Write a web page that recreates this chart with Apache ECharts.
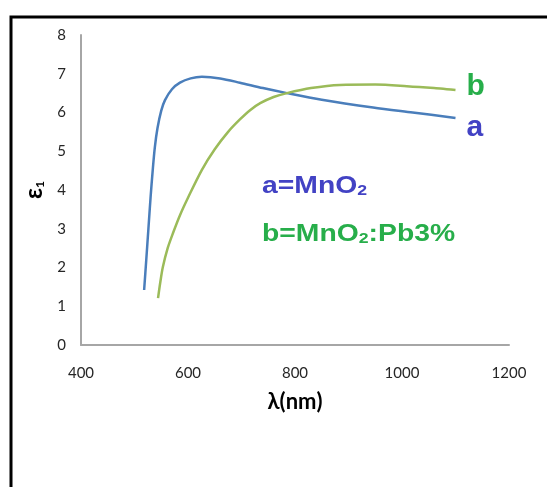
<!DOCTYPE html>
<html>
<head>
<meta charset="utf-8">
<script src="https://cdn.jsdelivr.net/npm/echarts@6/dist/echarts.min.js"></script>
<style>
  html, body { margin: 0; padding: 0; background: #fff; }
  #chart { width: 547px; height: 487px; }
</style>
</head>
<body>
<div id="chart"></div>
<script>
// 波长 (nm) 与 ε1 数据
const seriesNames = ['a', 'b']
const xTicks = [400, 600, 800, 1000, 1200]
const yTicks = [0, 1, 2, 3, 4, 5, 6, 7, 8]
// a = MnO2
const dataA = [
  [518, 1.42], [522, 2.2], [526, 3.0], [530, 3.8], [534, 4.5], [538, 5.1],
  [543, 5.6], [550, 6.05], [557, 6.32], [570, 6.6], [585, 6.77], [605, 6.88],
  [626, 6.92], [660, 6.88], [697, 6.77], [740, 6.63], [785, 6.5], [850, 6.33],
  [946, 6.13], [1020, 6.0], [1100, 5.86]
]
// b = MnO2:Pb3%
const dataB = [
  [544, 1.21], [548, 1.6], [553, 2.01], [562, 2.5], [572, 2.89], [585, 3.35],
  [600, 3.8], [626, 4.52], [650, 5.05], [675, 5.5], [697, 5.82], [716, 6.06],
  [735, 6.24], [760, 6.4], [785, 6.5], [830, 6.63], [884, 6.71], [950, 6.72],
  [1009, 6.68], [1060, 6.63], [1100, 6.58]
]

const chart = echarts.init(document.getElementById('chart'))

const tickFont = {
  fontFamily: 'Lato',
  fontSize: 15,
  color: '#262626'
}

const option = {
  animation: false,
  backgroundColor: '#fff',
  grid: {
    left: 81,
    right: 38,
    top: 35,
    bottom: 142
  },
  xAxis: {
    type: 'value',
    min: xTicks[0],
    max: xTicks[xTicks.length - 1],
    interval: 200,
    name: 'λ(nm)',
    nameLocation: 'middle',
    nameGap: 46,
    nameTextStyle: {
      fontFamily: 'Lato',
      fontWeight: 'bold',
      fontSize: 22,
      color: '#000'
    },
    axisLine: { lineStyle: { color: '#a6a6a6', width: 2 } },
    axisTick: { show: false },
    splitLine: { show: false },
    axisLabel: Object.assign({ margin: 21, formatter: v => String(v) }, tickFont)
  },
  yAxis: {
    type: 'value',
    min: yTicks[0],
    max: yTicks[yTicks.length - 1],
    interval: 1,
    name: '{e|ε}{s|1}',
    nameLocation: 'middle',
    nameGap: 34,
    nameRotate: 90,
    nameTextStyle: {
      rich: {
        e: { fontFamily: 'Lato', fontWeight: 'bold', fontSize: 24, color: '#000' },
        s: { fontFamily: 'Lato', fontWeight: 'bold', fontSize: 12, color: '#000', verticalAlign: 'bottom', padding: [8, 0, 0, 0] }
      }
    },
    axisLine: { show: true, lineStyle: { color: '#a6a6a6', width: 2 } },
    axisTick: { show: false },
    splitLine: { show: false },
    axisLabel: Object.assign({ margin: 15 }, tickFont)
  },
  series: [
    {
      name: seriesNames[0],
      type: 'line',
      data: dataA,
      smooth: 0.3,
      showSymbol: false,
      lineStyle: { color: '#4a7ebb', width: 2.5 },
      endLabel: {
        show: true,
        formatter: 'a',
        offset: [3, 10],
        fontFamily: 'Liberation Sans',
        fontWeight: 'bold',
        fontSize: 30,
        color: '#4242c4'
      }
    },
    {
      name: seriesNames[1],
      type: 'line',
      data: dataB,
      smooth: 0.3,
      showSymbol: false,
      lineStyle: { color: '#9bbb59', width: 2.5 },
      endLabel: {
        show: true,
        formatter: 'b',
        offset: [3, -3],
        fontFamily: 'Liberation Sans',
        fontWeight: 'bold',
        fontSize: 30,
        color: '#27ae4a'
      }
    }
  ],
  graphic: [
    {
      type: 'rect',
      shape: { x: 11, y: 17, width: 600, height: 600 },
      style: { fill: 'none', stroke: '#000', lineWidth: 3 },
      silent: true
    },
    {
      type: 'text',
      left: 262,
      top: 174,
      scaleX: 1.18,
      style: {
        text: '{m|a=MnO}{s|2}',
        fill: '#4242c4',
        rich: {
          m: { fontFamily: 'Liberation Sans', fontWeight: 'bold', fontSize: 24, fill: '#4242c4' },
          s: { fontFamily: 'Liberation Sans', fontWeight: 'bold', fontSize: 15, fill: '#4242c4', verticalAlign: 'bottom', padding: [6, 0, 0, 0] }
        }
      }
    },
    {
      type: 'text',
      left: 262,
      top: 222,
      scaleX: 1.18,
      style: {
        text: '{m|b=MnO}{s|2}{m|:Pb3%}',
        fill: '#27ae4a',
        rich: {
          m: { fontFamily: 'Liberation Sans', fontWeight: 'bold', fontSize: 24, fill: '#27ae4a' },
          s: { fontFamily: 'Liberation Sans', fontWeight: 'bold', fontSize: 15, fill: '#27ae4a', verticalAlign: 'bottom', padding: [6, 0, 0, 0] }
        }
      }
    }
  ]
}

chart.setOption(option)
</script>
</body>
</html>
